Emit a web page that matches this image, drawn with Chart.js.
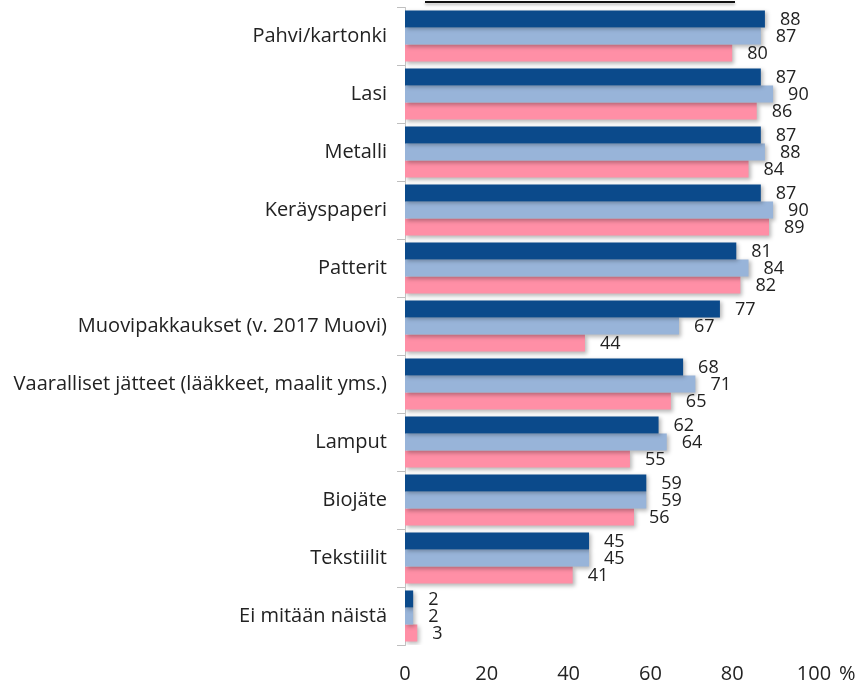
<!DOCTYPE html>
<html>
<head>
<meta charset="utf-8">
<script src="https://cdn.jsdelivr.net/npm/chart.js@4"></script>
<style>
    html, body { margin: 0; padding: 0; background: #fff; }
    #wrap { position: relative; width: 862px; height: 686px; }
    #topLine { position: absolute; left: 425px; top: 1px; width: 310px; height: 2px; background: #111; box-shadow: 0 2px 3px rgba(0,0,0,0.3); }
</style>
</head>
<body>
<div id="wrap">
    <canvas id="chart" width="862" height="686"></canvas>
    <div id="topLine"></div>
</div>
<script>
// ============= Data =============
const categories = [
    'Pahvi/kartonki',
    'Lasi',
    'Metalli',
    'Keräyspaperi',
    'Patterit',
    'Muovipakkaukset (v. 2017 Muovi)',
    'Vaaralliset jätteet (lääkkeet, maalit yms.)',
    'Lamput',
    'Biojäte',
    'Tekstiilit',
    'Ei mitään näistä'
];
const seriesDark = [88, 87, 87, 87, 81, 77, 68, 62, 59, 45, 2];
const seriesLight = [87, 90, 88, 90, 84, 67, 71, 64, 59, 45, 2];
const seriesPink = [80, 86, 84, 89, 82, 44, 65, 55, 56, 41, 3];
const xTicks = [0, 20, 40, 60, 80, 100];

const colors = ['#0b4a8b', '#98b4d9', '#ff8fa6'];
const FONT = "'Open Sans', sans-serif";

// soft drop shadow under the bars
const shadowPlugin = {
    id: 'barShadow',
    beforeDatasetsDraw(chart) {
        const ctx = chart.ctx;
        ctx.save();
        ctx.shadowColor = 'rgba(0,0,0,0.28)';
        ctx.shadowBlur = 4;
        ctx.shadowOffsetX = 2;
        ctx.shadowOffsetY = 2;
    },
    afterDatasetsDraw(chart) {
        chart.ctx.restore();
    }
};

// value labels right of each bar + "%" after the last x tick
const valueLabels = {
    id: 'valueLabels',
    afterDraw(chart) {
        const ctx = chart.ctx;
        ctx.save();
        ctx.font = '18px ' + FONT;
        ctx.fillStyle = '#222';
        ctx.textAlign = 'left';
        ctx.textBaseline = 'middle';
        chart.data.datasets.forEach((ds, i) => {
            chart.getDatasetMeta(i).data.forEach((bar, j) => {
                ctx.fillText(String(ds.data[j]), bar.x + 15, bar.y + 1);
            });
        });
        const xs = chart.scales.x;
        ctx.font = '20px ' + FONT;
        ctx.fillText('%', xs.getPixelForValue(100) + 25, 674);
        ctx.restore();
    }
};

new Chart(document.getElementById('chart'), {
    type: 'bar',
    data: {
        labels: categories,
        datasets: [
            { data: seriesDark, backgroundColor: colors[0] },
            { data: seriesLight, backgroundColor: colors[1] },
            { data: seriesPink, backgroundColor: colors[2] }
        ]
    },
    options: {
        indexAxis: 'y',
        responsive: false,
        animation: false,
        layout: { padding: { top: 7, right: 48, bottom: 0, left: 0 } },
        datasets: { bar: { categoryPercentage: 0.88, barPercentage: 1.0, borderWidth: 0 } },
        plugins: { legend: { display: false }, tooltip: { enabled: false } },
        scales: {
            x: {
                min: 0,
                max: 100,
                afterBuildTicks: s => { s.ticks = xTicks.map(v => ({ value: v })); },
                afterFit: s => { s.height = 41; },
                grid: { display: false, drawTicks: false },
                border: { display: false },
                ticks: { color: '#222', font: { family: FONT, size: 20 }, padding: 17 }
            },
            y: {
                afterFit: s => { s.width = 405; s.paddingTop = 0; s.paddingBottom = 0; },
                grid: { offset: true, drawOnChartArea: false, color: '#bfbfbf', tickLength: 8 },
                border: { display: true, color: '#c8c8c8' },
                ticks: { color: '#222', font: { family: FONT, size: 20 }, padding: 10 }
            }
        }
    },
    plugins: [shadowPlugin, valueLabels]
});
</script>
</body>
</html>
